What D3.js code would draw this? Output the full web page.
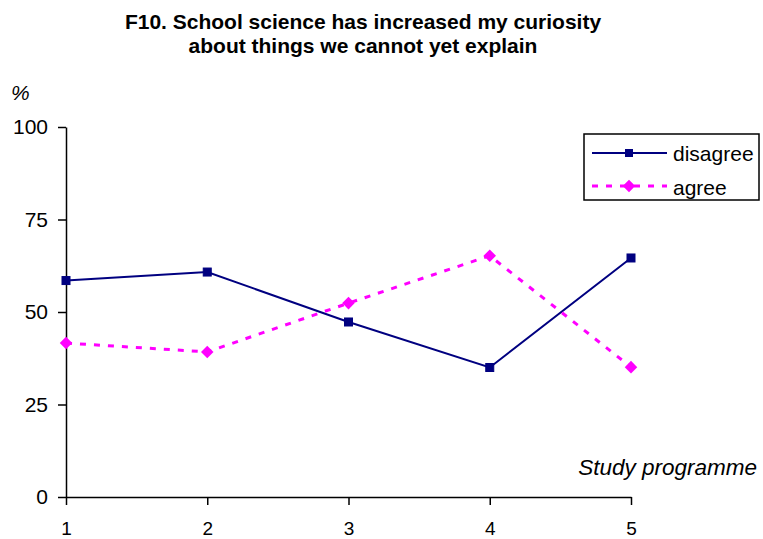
<!DOCTYPE html>
<html>
<head>
<meta charset="utf-8">
<script src="https://cdn.jsdelivr.net/npm/d3@7"></script>
<style>
  body { margin: 0; background: #fff; }
  text { font-family: "Liberation Sans", Arial, sans-serif; }
</style>
</head>
<body>
<svg id="chart" width="763" height="539"></svg>
<script>
// data
var programmes = [1, 2, 3, 4, 5];
var disagree = [58.5, 60.8, 47.3, 35.0, 64.6];
var agree = [41.6, 39.2, 52.4, 65.2, 35.1];
var yTicks = [0, 25, 50, 75, 100];
var titleLines = ["F10. School science has increased my curiosity", "about things we cannot yet explain"];

var svg = d3.select("#chart");

var x = d3.scaleLinear().domain([1, 5]).range([66, 631]);
var y = d3.scaleLinear().domain([0, 100]).range([497, 127]);

// title
svg.selectAll(".title").data(titleLines).enter()
  .append("text")
  .attr("x", 363)
  .attr("y", function(d, i) { return 29 + i * 24; })
  .attr("text-anchor", "middle")
  .attr("font-size", 21)
  .attr("font-weight", "bold")
  .text(function(d) { return d; });

// y axis
var yAxis = d3.axisLeft(y).tickValues(yTicks).tickSize(8).tickSizeOuter(0).tickPadding(10);
var gy = svg.append("g").attr("transform", "translate(" + x(1) + ",0)").call(yAxis);
gy.selectAll("text").attr("font-size", 21).attr("font-family", "Liberation Sans, Arial, sans-serif").attr("fill", "#000");
gy.selectAll("line, path").attr("stroke", "#000").attr("stroke-width", 1.5);

// x axis
var xAxis = d3.axisBottom(x).tickValues(programmes).tickSize(8).tickSizeOuter(0).tickPadding(17)
  .tickFormat(d3.format("d"));
var gx = svg.append("g").attr("transform", "translate(0," + y(0) + ")").call(xAxis);
gx.selectAll("text").attr("font-size", 19).attr("font-family", "Liberation Sans, Arial, sans-serif").attr("fill", "#000");
gx.selectAll("line, path").attr("stroke", "#000").attr("stroke-width", 1.5);

// axis titles
svg.append("text").attr("x", 11).attr("y", 100)
  .attr("font-size", 21).attr("font-style", "italic").text("%");
svg.append("text").attr("x", 757).attr("y", 475)
  .attr("text-anchor", "end").attr("font-size", 22.5).attr("font-style", "italic").text("Study programme");

var line = d3.line()
  .x(function(d, i) { return x(programmes[i]); })
  .y(function(d) { return y(d); });

// disagree series
svg.append("path").datum(disagree)
  .attr("d", line)
  .attr("fill", "none")
  .attr("stroke", "#000080")
  .attr("stroke-width", 2);

svg.selectAll(".sq").data(disagree).enter()
  .append("rect")
  .attr("x", function(d, i) { return x(programmes[i]) - 4; })
  .attr("y", function(d) { return y(d) - 4; })
  .attr("width", 8)
  .attr("height", 8)
  .attr("fill", "#000080")
  .attr("stroke", "#000080");

// agree series
svg.append("path").datum(agree)
  .attr("d", line)
  .attr("fill", "none")
  .attr("stroke", "#ff00ff")
  .attr("stroke-width", 3)
  .attr("stroke-dasharray", "6,8");

var diamond = d3.symbol().type(d3.symbolDiamond2).size(100);
svg.selectAll(".dm").data(agree).enter()
  .append("path")
  .attr("d", diamond)
  .attr("transform", function(d, i) { return "translate(" + x(programmes[i]) + "," + y(d) + ")"; })
  .attr("fill", "#ff00ff");

// legend
var legend = svg.append("g");
legend.append("rect")
  .attr("x", 584).attr("y", 134).attr("width", 175).attr("height", 66)
  .attr("fill", "#fff").attr("stroke", "#000").attr("stroke-width", 1.5);

legend.append("line").attr("x1", 592).attr("x2", 667).attr("y1", 153).attr("y2", 153)
  .attr("stroke", "#000080").attr("stroke-width", 2);
legend.append("rect").attr("x", 625).attr("y", 149).attr("width", 8).attr("height", 8)
  .attr("fill", "#000080");
legend.append("text").attr("x", 673).attr("y", 161).attr("font-size", 21).text("disagree");

legend.append("line").attr("x1", 592).attr("x2", 667).attr("y1", 186).attr("y2", 186)
  .attr("stroke", "#ff00ff").attr("stroke-width", 3).attr("stroke-dasharray", "6,8");
legend.append("path").attr("d", diamond)
  .attr("transform", "translate(629,186)").attr("fill", "#ff00ff");
legend.append("text").attr("x", 673).attr("y", 195).attr("font-size", 21).text("agree");
</script>
</body>
</html>
